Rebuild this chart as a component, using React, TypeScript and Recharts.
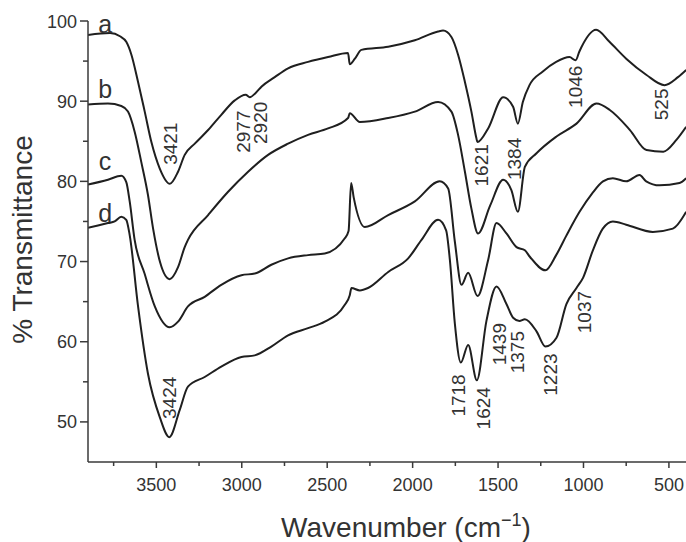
import React from 'react';
import { LineChart, Line, XAxis, YAxis, ReferenceDot, Label } from 'recharts';

const FONT = '"Liberation Sans", Arial, Helvetica, sans-serif';
const INK = '#1f1f1f';
const AXIS = '#3a3a3a';
const TEXT = '#333';

// spectrum a
const waveA = [3900, 3771, 3713, 3676, 3646, 3607, 3568, 3529, 3480, 3421, 3373, 3334, 3275, 3197, 3120, 3041, 2977, 2953, 2920, 2885, 2807, 2729, 2612, 2495, 2378, 2368, 2338, 2300, 2143, 1987, 1851, 1822, 1773, 1734, 1694, 1656, 1627, 1621, 1558, 1470, 1412, 1384, 1355, 1316, 1238, 1160, 1082, 1046, 1024, 926, 848, 750, 633, 526, 447, 399];
const transA = [98.25, 98.5, 98.1, 97.4, 95.8, 92.4, 88.7, 84.9, 81.6, 79.7, 81.2, 83.3, 84.7, 86.4, 88.3, 90.1, 90.8, 90.5, 91.0, 91.8, 93.0, 94.1, 94.9, 95.5, 96.0, 94.6, 95.3, 96.4, 96.8, 97.6, 98.7, 98.8, 98.0, 95.8, 92.4, 88.7, 85.4, 84.9, 86.6, 90.5, 89.3, 87.2, 89.9, 92.0, 93.7, 94.9, 95.5, 95.1, 96.2, 98.9, 97.4, 95.3, 93.3, 92.0, 93.0, 93.9];

// spectrum b
const waveB = [3900, 3783, 3705, 3666, 3627, 3588, 3549, 3519, 3478, 3422, 3373, 3334, 3315, 3197, 3080, 2963, 2846, 2729, 2612, 2495, 2378, 2368, 2309, 2143, 1987, 1851, 1773, 1734, 1694, 1656, 1617, 1546, 1470, 1422, 1384, 1343, 1275, 1158, 1041, 924, 846, 728, 631, 533, 455, 399];
const transB = [89.6, 89.7, 89.4, 88.7, 86.2, 82.4, 78.3, 74.1, 69.9, 67.8, 69.3, 71.8, 72.7, 75.8, 78.7, 81.2, 83.3, 84.7, 85.8, 86.6, 87.9, 88.5, 87.4, 87.9, 88.7, 89.9, 88.7, 85.8, 81.2, 76.6, 73.5, 77.0, 80.2, 78.9, 76.2, 81.8, 83.5, 85.6, 87.2, 89.7, 88.9, 86.4, 83.9, 83.7, 85.2, 86.8];

// spectrum c
const waveC = [3900, 3783, 3705, 3676, 3656, 3627, 3569, 3509, 3422, 3373, 3315, 3217, 3120, 3002, 2924, 2827, 2729, 2612, 2514, 2397, 2375, 2360, 2345, 2280, 2143, 1987, 1841, 1792, 1753, 1714, 1675, 1620, 1558, 1509, 1451, 1392, 1343, 1314, 1223, 1160, 1101, 1023, 949, 886, 828, 750, 672, 633, 555, 438, 399];
const transC = [79.6, 80.2, 80.7, 79.9, 77.5, 72.7, 68.5, 64.4, 61.8, 62.5, 64.4, 65.6, 67.1, 68.3, 68.5, 69.6, 70.4, 70.8, 71.0, 72.9, 73.8, 79.8, 78.0, 74.3, 75.8, 77.5, 80.0, 79.1, 72.5, 67.1, 68.6, 65.7, 70.2, 74.8, 73.5, 71.8, 71.4, 70.6, 68.9, 70.8, 73.2, 76.2, 78.5, 80.0, 80.4, 80.0, 80.8, 80.0, 79.5, 79.8, 80.4];

// spectrum d
const waveD = [3900, 3783, 3744, 3705, 3676, 3656, 3607, 3549, 3480, 3424, 3363, 3315, 3217, 3120, 3002, 2924, 2827, 2729, 2612, 2514, 2397, 2368, 2358, 2309, 2261, 2143, 2026, 1948, 1851, 1804, 1782, 1753, 1718, 1675, 1624, 1568, 1509, 1451, 1412, 1375, 1343, 1275, 1223, 1158, 1100, 1041, 1002, 945, 887, 828, 750, 594, 477, 399];
const transD = [74.2, 74.8, 75.0, 75.6, 75.2, 73.3, 64.4, 56.0, 50.6, 48.1, 51.5, 54.4, 55.6, 56.9, 58.1, 58.3, 59.4, 60.8, 61.7, 62.5, 64.6, 65.8, 66.7, 66.4, 66.7, 68.7, 70.4, 72.7, 75.2, 73.9, 70.2, 62.3, 57.4, 59.6, 55.2, 62.6, 66.9, 64.7, 63.0, 62.6, 62.8, 61.3, 59.4, 60.5, 64.7, 66.7, 68.0, 71.4, 74.1, 75.0, 74.6, 73.7, 74.1, 76.2];

// curve letters (wavenumber, baseline value)
const curveNames = ['a', 'b', 'c', 'd'];
const nameWave = [3800, 3800, 3800, 3800];
const nameTrans = [98.5, 90.4, 81.4, 74.9];

// band labels (text, wavenumber, value at label centre)
const peakText = ['3421', '2977', '2920', '1621', '1384', '1046', '525', '3424', '1718', '1624', '1439', '1375', '1223', '1037'];
const peakWave = [3417, 2992, 2890, 1596, 1402, 1046, 542, 3422, 1729, 1587, 1489, 1388, 1191, 992];
const peakTrans = [84.7, 86.2, 87.3, 82.0, 82.8, 91.8, 89.6, 53.0, 53.3, 51.7, 59.7, 58.7, 55.9, 63.7];

const X_TICKS = [500, 750, 1000, 1250, 1500, 1750, 2000, 2250, 2500, 2750, 3000, 3250, 3500, 3750];
const Y_TICKS = [50, 55, 60, 65, 70, 75, 80, 85, 90, 95, 100];

const toPoints = (w: number[], t: number[]) => w.map((v, i) => ({ w: v, t: t[i] }));
const series = [
  toPoints(waveA, transA),
  toPoints(waveB, transB),
  toPoints(waveC, transC),
  toPoints(waveD, transD),
];

const XTick = (props: any) => {
  const { x, y, payload } = props;
  const major = payload.value % 500 === 0;
  return (
    <g>
      <line x1={x} y1={y} x2={x} y2={y + (major ? 6 : 4)} stroke={AXIS} strokeWidth={1.5} />
      {major && (
        <text x={x} y={y + 29} textAnchor="middle" fontSize={18} fontFamily={FONT} fill={TEXT}>
          {payload.value}
        </text>
      )}
    </g>
  );
};

const YTick = (props: any) => {
  const { x, y, payload } = props;
  const major = payload.value % 10 === 0;
  return (
    <g>
      <line x1={x - (major ? 8 : 5)} y1={y} x2={x} y2={y} stroke={AXIS} strokeWidth={1.5} />
      {major && (
        <text x={x - 11} y={y + 6.5} textAnchor="end" fontSize={18} fontFamily={FONT} fill={TEXT}>
          {payload.value}
        </text>
      )}
    </g>
  );
};

export default function App() {
  return (
    <div style={{ position: 'absolute', left: 0, top: 0, background: '#fff' }}>
      <LineChart width={686} height={542} margin={{ top: 21, right: 0, bottom: 0, left: 0 }}>
        <XAxis
          type="number"
          dataKey="w"
          domain={[400, 3900]}
          reversed
          allowDataOverflow
          ticks={X_TICKS}
          interval={0}
          tick={<XTick />}
          tickLine={false}
          tickSize={0}
          tickMargin={0}
          height={80}
          axisLine={{ stroke: AXIS, strokeWidth: 1.5 }}
        >
          <Label
            content={(p: any) => {
              const vb = p.viewBox;
              return (
                <text
                  x={vb.x + vb.width / 2 + 19}
                  y={vb.y + 75}
                  textAnchor="middle"
                  fontSize={28}
                  fontFamily={FONT}
                  fill={TEXT}
                >
                  Wavenumber (cm
                  <tspan dy={-11} fontSize={18}>−1</tspan>
                  <tspan dy={11}>)</tspan>
                </text>
              );
            }}
          />
        </XAxis>
        <YAxis
          type="number"
          domain={[45, 100]}
          allowDataOverflow
          ticks={Y_TICKS}
          interval={0}
          tick={<YTick />}
          tickLine={false}
          tickSize={0}
          tickMargin={0}
          width={88}
          axisLine={{ stroke: AXIS, strokeWidth: 1.5 }}
        >
          <Label
            content={(p: any) => {
              const vb = p.viewBox;
              const cx = vb.x + 22;
              const cy = vb.y + vb.height / 2 - 2;
              return (
                <text
                  x={cx}
                  y={cy}
                  transform={`rotate(-90 ${cx} ${cy})`}
                  textAnchor="middle"
                  dominantBaseline="central"
                  fontSize={28}
                  fontFamily={FONT}
                  fill={TEXT}
                >
                  % Transmittance
                </text>
              );
            }}
          />
        </YAxis>

        {series.map((pts, i) => (
          <Line
            key={curveNames[i]}
            data={pts}
            dataKey="t"
            type="monotone"
            stroke={INK}
            strokeWidth={2}
            dot={false}
            activeDot={false}
            isAnimationActive={false}
          />
        ))}

        {curveNames.map((name, i) => (
          <ReferenceDot
            key={'n' + name}
            x={nameWave[i]}
            y={nameTrans[i]}
            r={0}
            ifOverflow="visible"
            shape={(p: any) => (
              <text x={p.cx} y={p.cy} textAnchor="middle" fontSize={25} fontFamily={FONT} fill={TEXT}>
                {name}
              </text>
            )}
          />
        ))}

        {peakText.map((label, i) => (
          <ReferenceDot
            key={'p' + i}
            x={peakWave[i]}
            y={peakTrans[i]}
            r={0}
            ifOverflow="visible"
            shape={(p: any) => (
              <text
                x={p.cx}
                y={p.cy}
                transform={`rotate(-90 ${p.cx} ${p.cy})`}
                textAnchor="middle"
                dominantBaseline="central"
                fontSize={19}
                fontFamily={FONT}
                fill={TEXT}
              >
                {label}
              </text>
            )}
          />
        ))}
      </LineChart>
    </div>
  );
}
